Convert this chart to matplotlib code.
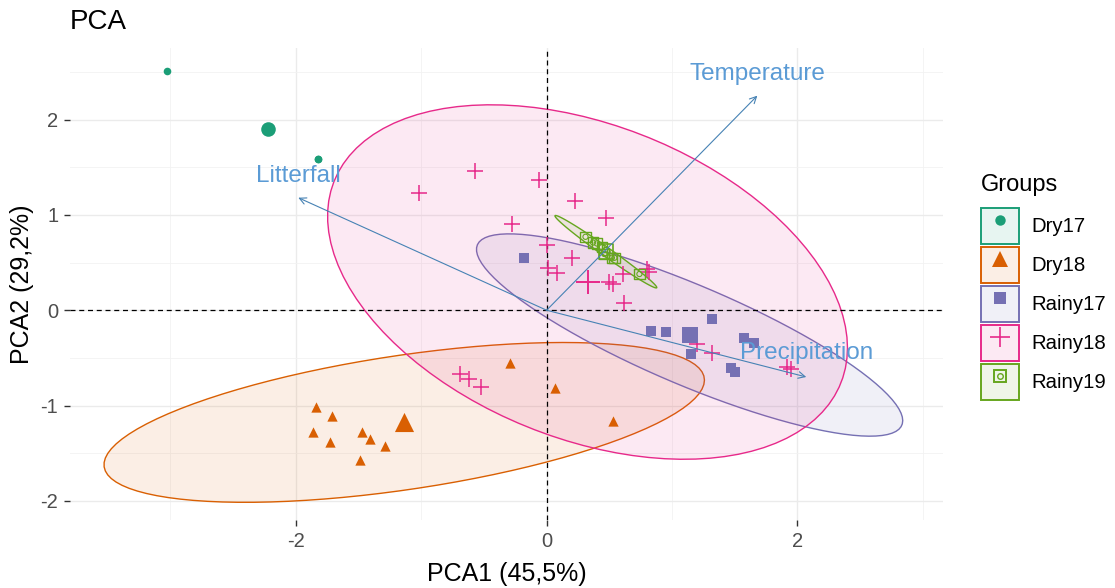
import numpy as np
import matplotlib
matplotlib.use("Agg")
import matplotlib.pyplot as plt
from matplotlib.patches import Polygon, Rectangle
from matplotlib.lines import Line2D
from matplotlib.legend_handler import HandlerTuple

plt.rcParams['font.family'] = ['Liberation Sans', 'DejaVu Sans']
plt.rcParams['axes.unicode_minus'] = False

# individuals (PCA scores)
groups = ["Dry17", "Dry18", "Rainy17", "Rainy18", "Rainy19"]
colors = ["#1B9E77", "#D95F02", "#7570B3", "#E7298A", "#66A61E"]

dry17_x = [-3.03, -1.82, -1.82]
dry17_y = [2.51, 1.59, 1.59]

dry18_x = [-0.29, 0.07, 0.53, -1.84, -1.71, -1.86, -1.73, -1.47, -1.41, -1.29, -1.49]
dry18_y = [-0.55, -0.82, -1.16, -1.02, -1.11, -1.28, -1.38, -1.28, -1.35, -1.42, -1.57]

rainy17_x = [-0.18, 1.32, 0.83, 0.95, 1.15, 1.57, 1.65, 1.47, 1.50]
rainy17_y = [0.55, -0.09, -0.22, -0.23, -0.46, -0.29, -0.34, -0.61, -0.65]

rainy18_x = [-0.57, -1.02, -0.06, 0.23, 0.47, -0.28, 0.00, 0.20, 0.01, 0.08, 0.50, 0.53,
             0.61, 0.80, 0.82, 0.62, 1.20, 1.32, 1.92, 1.95, -0.69, -0.62, -0.52]
rainy18_y = [1.46, 1.23, 1.37, 1.15, 0.97, 0.90, 0.68, 0.55, 0.44, 0.39, 0.30, 0.28,
             0.38, 0.43, 0.40, 0.08, -0.35, -0.45, -0.60, -0.62, -0.67, -0.72, -0.80]

rainy19_x = [0.31, 0.37, 0.40, 0.44, 0.46, 0.52, 0.54, 0.74]
rainy19_y = [0.77, 0.71, 0.70, 0.66, 0.59, 0.55, 0.55, 0.38]

# variables (loadings arrows)
var_names = ["Temperature", "Litterfall", "Precipitation"]
var_x = [1.68, -1.98, 2.07]
var_y = [2.25, 1.18, -0.70]

xs = [dry17_x, dry18_x, rainy17_x, rainy18_x, rainy19_x]
ys = [dry17_y, dry18_y, rainy17_y, rainy18_y, rainy19_y]


def norm_ellipse(x, y, level=0.95, n=100):
    # same idea as ggplot stat_ellipse(type = "norm")
    x = np.asarray(x); y = np.asarray(y)
    d = len(x) - 1
    qf = d / 2.0 * ((1 - level) ** (-2.0 / d) - 1)
    radius = np.sqrt(2 * qf)
    cov = np.cov(x, y)
    chol = np.linalg.cholesky(cov).T
    t = np.linspace(0, 2 * np.pi, n)
    circ = np.column_stack([np.cos(t), np.sin(t)])
    return np.array([x.mean(), y.mean()]) + radius * circ @ chol


fig = plt.figure(figsize=(11.15, 5.88), dpi=100)
ax = fig.add_axes([0.0628, 0.1156, 0.7829, 0.8028])

# ellipses (Dry17 has too few points)
for i in range(1, 5):
    pts = norm_ellipse(xs[i], ys[i])
    ax.add_patch(Polygon(pts, closed=True, facecolor=colors[i], alpha=0.1, lw=0, zorder=2))
    ax.add_patch(Polygon(pts, closed=True, fill=False, edgecolor=colors[i], lw=1.0, zorder=2))

ax.axhline(0, color="black", ls=(0, (4, 3)), lw=0.9, zorder=3)
ax.axvline(0, color="black", ls=(0, (4, 3)), lw=0.9, zorder=3)

# points
ax.scatter(dry17_x, dry17_y, s=30, marker="o", color=colors[0], lw=0, zorder=4)
ax.scatter(dry18_x, dry18_y, s=55, marker="^", color=colors[1], lw=0, zorder=4)
ax.scatter(rainy17_x, rainy17_y, s=45, marker="s", color=colors[2], lw=0, zorder=4)
ax.scatter(rainy18_x, rainy18_y, s=130, marker="+", color=colors[3], lw=1.1, zorder=4)
ax.scatter(rainy19_x, rainy19_y, s=55, marker="s", facecolor="none", edgecolor=colors[4], lw=1.0, zorder=4)
ax.scatter(rainy19_x, rainy19_y, s=14, marker="o", facecolor="none", edgecolor=colors[4], lw=0.8, zorder=4)

# group means
cen_size = [110, 190, 130, 300, 110]
cen_marker = ["o", "^", "s", "+", "s"]
for i in range(5):
    mx, my = np.mean(xs[i]), np.mean(ys[i])
    if cen_marker[i] == "+":
        ax.scatter(mx, my, s=cen_size[i], marker="+", color=colors[i], lw=1.4, zorder=5)
    elif i == 4:
        ax.scatter(mx, my, s=cen_size[i], marker="s", facecolor="none", edgecolor=colors[i], lw=1.2, zorder=5)
        ax.scatter(mx, my, s=35, marker="o", facecolor="none", edgecolor=colors[i], lw=1.0, zorder=5)
    else:
        ax.scatter(mx, my, s=cen_size[i], marker=cen_marker[i], color=colors[i], lw=0, zorder=5)

# variable arrows
arrow_col = "#4682B4"
for name, vx, vy in zip(var_names, var_x, var_y):
    ax.annotate("", xy=(vx, vy), xytext=(0, 0),
                arrowprops=dict(arrowstyle="->", color=arrow_col, lw=0.8, mutation_scale=12,
                                shrinkA=0, shrinkB=0), zorder=6)
    ax.text(vx, vy + (0.23 if vy > 0 else 0.25), name, color="#5B9BD5", fontsize=17.5,
            ha="center", va="center", zorder=6)

ax.set_xlim(-3.80, 3.16)
ax.set_ylim(-2.20, 2.75)
ax.set_xticks([-2, 0, 2])
ax.set_yticks([-2, -1, 0, 1, 2])
ax.set_xticks([-3, -1, 1, 3], minor=True)
ax.set_yticks([-1.5, -0.5, 0.5, 1.5, 2.5], minor=True)
ax.grid(True, which="major", color="#EBEBEB", lw=1.0, zorder=0)
ax.grid(True, which="minor", color="#F2F2F2", lw=0.6, zorder=0)
ax.set_axisbelow(True)
for s in ax.spines.values():
    s.set_visible(False)
ax.tick_params(which="major", length=4.5, width=1.0, color="#333333", labelcolor="#4D4D4D",
               labelsize=14.5, pad=4)
ax.tick_params(which="minor", length=0)

ax.set_xlabel("PCA1 (45,5%)", fontsize=18, labelpad=8)
ax.set_ylabel("PCA2 (29,2%)", fontsize=18, labelpad=5)
ax.set_title("PCA", fontsize=20, loc="left", pad=14)

# legend
handles = []
for i in range(5):
    box = Rectangle((0, 0), 1, 1, facecolor=colors[i] + "1A", edgecolor=colors[i], lw=1.4)
    if i == 0:
        mk = [Line2D([], [], marker="o", color=colors[i], ls="", markersize=7.5, mew=0)]
    elif i == 1:
        mk = [Line2D([], [], marker="^", color=colors[i], ls="", markersize=11, mew=0)]
    elif i == 2:
        mk = [Line2D([], [], marker="s", color=colors[i], ls="", markersize=9, mew=0)]
    elif i == 3:
        mk = [Line2D([], [], marker="+", color=colors[i], ls="", markersize=14, mew=1.2)]
    else:
        mk = [Line2D([], [], marker="s", mfc="none", mec=colors[i], ls="", markersize=9, mew=1.4),
              Line2D([], [], marker="o", mfc="none", mec=colors[i], ls="", markersize=4, mew=1.0)]
    handles.append(tuple([box] + mk))

fig.text(0.8798, 1 - 185 / 588, "Groups", fontsize=17, ha="left", va="center")
leg = fig.legend(handles, groups, handler_map={tuple: HandlerTuple(ndivide=1, pad=0)},
                 loc="upper left", bbox_to_anchor=(0.8798, 1 - 208 / 588), frameon=False,
                 fontsize=14.7, borderpad=0, borderaxespad=0,
                 handlelength=1.86, handleheight=2.335, labelspacing=0.147,
                 handletextpad=0.59)

fig.savefig("out.png", dpi=100)
